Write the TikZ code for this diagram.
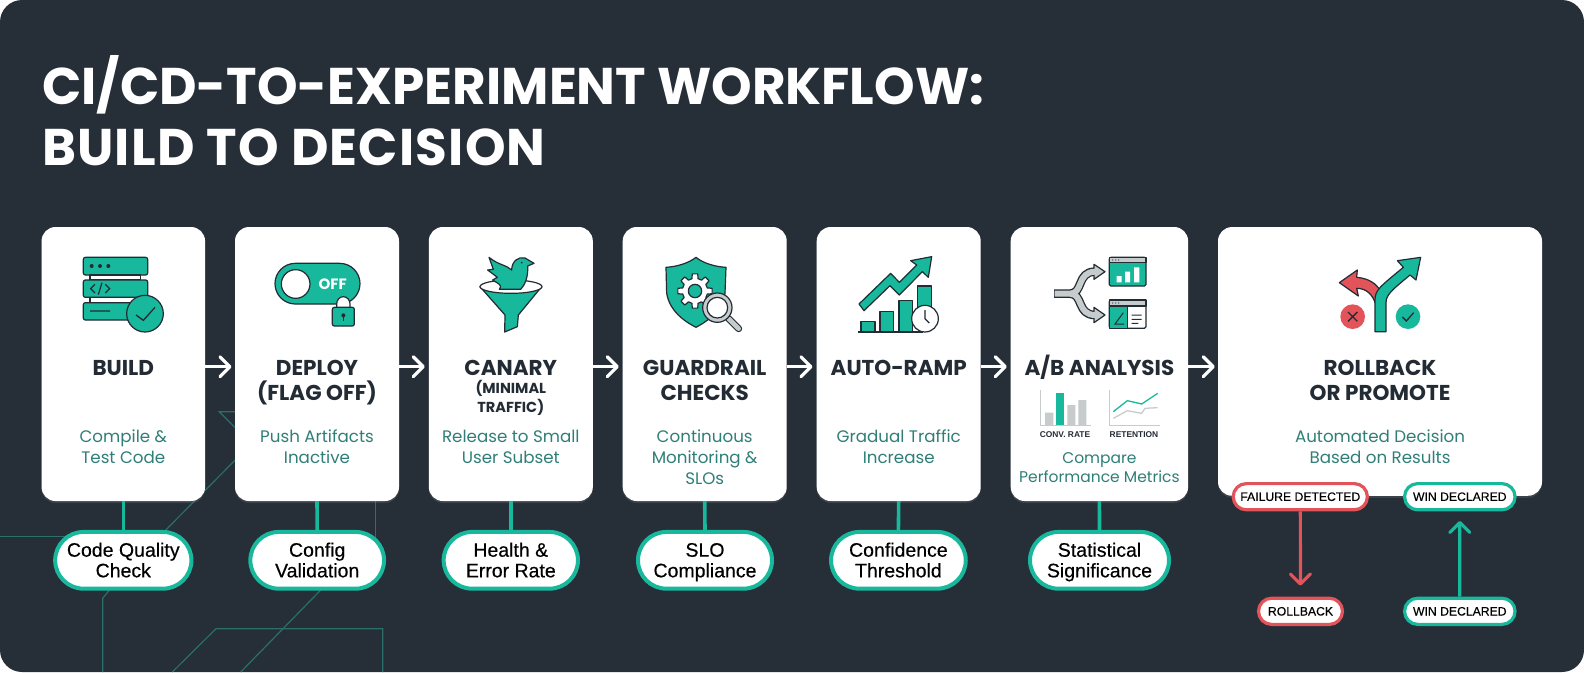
\documentclass[tikz,border=0pt]{standalone}
\usepackage{fontspec}
\setmainfont{Poppins}
\newfontfamily\pillfont[FakeBold=0.35]{Liberation Sans}
\newfontfamily\chartfont{Liberation Sans}
\usetikzlibrary{arrows.meta,shapes.misc,shadows}
\definecolor{panel}{HTML}{262E38}
\definecolor{ink}{HTML}{232B35}
\definecolor{mint}{HTML}{17B89B}
\definecolor{subtxt}{HTML}{2F7F78}
\definecolor{trace}{HTML}{2A6F6A}
\definecolor{alarm}{HTML}{E2535A}
\definecolor{ash}{HTML}{C6CCCC}
\begin{document}
\begin{tikzpicture}[x=1pt,y=-1pt,
    card/.style={rectangle,fill=white,rounded corners=14pt,inner sep=0pt,drop shadow={opacity=.25,shadow xshift=0pt,shadow yshift=-2pt}},
    head/.style={anchor=base,align=center,inner sep=0pt,text=ink,font=\fontsize{21.5}{25}\selectfont\bfseries},
    minihead/.style={anchor=base,align=center,inner sep=0pt,text=ink,font=\fontsize{14.5}{19.7}\selectfont\bfseries},
    sub/.style={anchor=base,align=center,inner sep=0pt,text=subtxt,font=\fontsize{16.7}{20.8}\selectfont},
    pill/.style={rounded rectangle,draw=mint,fill=white,line width=4pt,inner sep=0pt,align=center,minimum height=56.7pt,text=black,text height=40pt,text depth=6pt,font=\pillfont\fontsize{19.5}{20.6}\selectfont},
    tag/.style={rounded rectangle,draw=#1,fill=white,line width=3.2pt,inner sep=0pt,minimum height=26.2pt,text=black,font=\pillfont\fontsize{12.2}{14}\selectfont},
    link/.style={draw=mint,line width=3.6pt},
    flow/.style={draw=white,line width=3.2pt,-{Straight Barb[length=10pt,width=20pt,round]}},
    bgline/.style={draw=trace,line width=1.2pt},
    icon/.style={shift={#1},scale=1/3},
    solid fill/.style={fill=#1,draw=ink,line width=1.2pt,line join=round}]
  \useasboundingbox (0,0) rectangle (1584,672);
  \fill[white] (0,0) rectangle (1584,672);
  \fill[panel,rounded corners=22pt] (0,0) rectangle (1584,672);

  \draw[bgline] (0,536.7) -- (70,536.7);
  \draw[bgline] (165.7,530) -- (280,415);
  \draw[bgline] (245,437.5) -- (219.3,411.7) -- (300,411.7);
  \draw[bgline] (375.7,495) -- (375.7,540);
  \draw[bgline] (111,588) -- (102.7,598.3) -- (102.7,672);
  \draw[bgline] (322.7,588) -- (240.7,672);
  \draw[bgline] (172.3,672) -- (216,628.7) -- (382.7,628.7) -- (382.7,672);

  \node[card,minimum width=163.5pt,minimum height=274pt] (c1) at (123.3,364) {};
  \node[card,minimum width=164pt,minimum height=274pt] (c2) at (317,364) {};
  \node[card,minimum width=164pt,minimum height=274pt] (c3) at (510.8,364) {};
  \node[card,minimum width=164pt,minimum height=274pt] (c4) at (704.7,364) {};
  \node[card,minimum width=164pt,minimum height=274pt] (c5) at (898.7,364) {};
  \node[card,minimum width=177.4pt,minimum height=274pt] (c6) at (1099.4,364) {};
  \node[card,minimum width=324pt,minimum height=268.7pt] (c7) at (1380,361.4) {};

  \draw[flow] ([yshift=-2.7pt]c1.east) -- ([yshift=-2.7pt,xshift=-3.3pt]c2.west);
  \draw[flow] ([yshift=-2.7pt]c2.east) -- ([yshift=-2.7pt,xshift=-3.8pt]c3.west);
  \draw[flow] ([yshift=-2.7pt]c3.east) -- ([yshift=-2.7pt,xshift=-3.7pt]c4.west);
  \draw[flow] ([yshift=-2.7pt]c4.east) -- ([yshift=-2.7pt,xshift=-4pt]c5.west);
  \draw[flow] ([yshift=-2.7pt]c5.east) -- ([yshift=-2.7pt,xshift=-3.7pt]c6.west);
  \draw[flow] ([yshift=-2.7pt]c6.east) -- ([yshift=-5.3pt,xshift=-3pt]c7.west);

  \node[anchor=base west,align=left,inner sep=0pt,text=white,font=\fontsize{51.6}{60.7}\selectfont\bfseries] (title) at (42,165) {CI/CD-TO-EXPERIMENT WORKFLOW:\\{\addfontfeature{LetterSpace=2.3}BUILD TO DECISION}};

  \node[head] (t1) at (123.3,375) {BUILD};
  \node[head] (t2) at (317,400) {DEPLOY\\(FLAG OFF)};
  \node[head] (t3) at (510.8,375) {CANARY};
  \node[minihead] (t3b) at (510.8,412.7) {(MINIMAL\\TRAFFIC)};
  \node[head] (t4) at (704.7,400) {GUARDRAIL\\CHECKS};
  \node[head] (t5) at (898.7,375) {AUTO-RAMP};
  \node[head] (t6) at (1099.4,375) {A/B ANALYSIS};
  \node[head] (t7) at (1380,400) {ROLLBACK\\OR PROMOTE};

  \node[sub] (s1) at (123.3,463.3) {Compile \&\\Test Code};
  \node[sub] (s2) at (317,463.3) {Push Artifacts\\Inactive};
  \node[sub] (s3) at (510.8,463.3) {Release to Small\\User Subset};
  \node[sub] (s4) at (704.7,484.5) {Continuous\\Monitoring \&\\SLOs};
  \node[sub] (s5) at (898.7,463.3) {Gradual Traffic\\Increase};
  \node[sub,font=\fontsize{15.5}{19.4}\selectfont] (s6) at (1099.4,482.7) {Compare\\Performance Metrics};
  \node[sub] (s7) at (1380,463.3) {Automated Decision\\Based on Results};

  \node[pill,minimum width=136pt] (p1) at (123.3,560.3) {Code Quality\\Check};
  \node[pill,minimum width=133.7pt] (p2) at (317.2,560.3) {Config\\Validation};
  \node[pill,minimum width=134.3pt] (p3) at (510.8,560.3) {Health \&\\Error Rate};
  \node[pill,minimum width=134pt] (p4) at (705,560.3) {SLO\\Compliance};
  \node[pill,minimum width=134.7pt] (p5) at (898.4,560.3) {Confidence\\Threshold};
  \node[pill,minimum width=139pt] (p6) at (1099.5,560.3) {Statistical\\Significance};
  \foreach \n in {1,...,6} \draw[link] (c\n.south) -- (p\n.north);

  \node[tag=alarm,minimum width=134.2pt] (fail) at (1300.3,496.7) {FAILURE DETECTED};
  \node[tag=mint,minimum width=110.5pt] (win) at (1459.8,496.7) {WIN DECLARED};
  \node[tag=alarm,minimum width=84pt] (back) at (1300.5,611.3) {ROLLBACK};
  \node[tag=mint,minimum width=110.5pt] (winb) at (1459.8,611.3) {WIN DECLARED};
  \draw[draw=alarm,line width=3.2pt,shorten >=11pt,-{Straight Barb[length=10pt,width=20pt,round]}] (fail) -- (back);
  \draw[draw=mint,line width=3.2pt,shorten >=9.5pt,-{Straight Barb[length=10pt,width=20pt,round]}] (winb) -- (win);

  \begin{scope}[icon={(30,220)}]
    \draw[solid fill=mint,rounded corners=2pt] (160,112) rectangle (353,165);
    \draw[solid fill=white] (180,165) rectangle (332,180) (180,232) rectangle (332,248);
    \draw[solid fill=mint,rounded corners=2pt] (160,180) rectangle (353,232);
    \draw[solid fill=mint,rounded corners=2pt] (160,248) rectangle (353,300);
    \foreach \x in {185,210,235} \fill[ink] (\x,138) circle[radius=6];
    \draw[ink,line width=1.2pt] (195,193) -- (182,206) -- (195,219) (205,224) -- (216,188) (226,193) -- (239,206) -- (226,219) (180,273) -- (240,273);
    \draw[solid fill=mint] (345,281) circle[radius=55];
    \draw[ink,line width=1.3pt] (318,285) -- (340,301) -- (375,262);
  \end{scope}

  \begin{scope}[icon={(30,220)}]
    \draw[solid fill=mint,rounded corners=20.3pt] (735,130) rectangle (990,252);
    \draw[solid fill=white] (797,192) circle[radius=43];
    \node[inner sep=0pt,text=white,font=\fontsize{15}{15}\selectfont\bfseries] (off) at (908,192) {OFF};
    \draw[solid fill=white] (920,265) -- (920,252) arc[start angle=180,end angle=360,x radius=20,y radius=22] -- (960,265);
    \draw[solid fill=mint,rounded corners=2pt] (907,262) rectangle (973,318);
    \fill[ink] (940,286) circle[radius=6];
    \draw[ink,line width=1.2pt] (940,286) -- (940,302);
  \end{scope}

  \begin{scope}[icon={(410,220)}]
    \draw[solid fill=mint] (210,200) -- (285,285) -- (284,336) -- (322,320) -- (325,285) -- (395,200) -- cycle;
    \draw[solid fill=white] (303,200) ellipse[x radius=93,y radius=20];
    \draw[solid fill=mint] (268,208) .. controls (280,195) and (262,190) .. (248,180) -- (262,172) -- (233,150) -- (250,148) -- (237,112) .. controls (265,135) and (290,135) .. (305,150) .. controls (305,125) and (325,108) .. (345,114) -- (372,130) -- (353,138) .. controls (355,170) and (345,195) .. (332,208) -- cycle;
    \fill[ink] (335,128) circle[radius=3];
  \end{scope}

  \begin{scope}[icon={(410,220)}]
    \draw[solid fill=mint] (858,112) .. controls (835,130) and (800,140) .. (768,142) -- (770,220) .. controls (780,280) and (835,310) .. (858,322) .. controls (880,310) and (935,280) .. (945,220) -- (948,142) .. controls (915,140) and (880,130) .. (858,112) -- cycle;
    \begin{scope}[shift={(855,213)}]
      \draw[solid fill=white] (-14:38) foreach \a in {0,45,...,315} {-- (\a-14:38) -- (\a-9:52) -- (\a+9:52) -- (\a+14:38)} -- cycle;
      \draw[solid fill=mint] (0,0) circle[radius=20];
    \end{scope}
    \draw[ink,line width=7pt,line cap=round] (956,296) -- (986,326);
    \draw[ash,line width=4.6pt,line cap=round] (956,296) -- (986,326);
    \draw[solid fill=ash] (922,263) circle[radius=44];
    \draw[solid fill=white] (922,263) circle[radius=31];
  \end{scope}

  \begin{scope}[icon={(790,220)}]
    \draw[solid fill=mint] (213,305) rectangle (255,335);
    \draw[solid fill=mint] (270,275) rectangle (310,335);
    \draw[solid fill=mint] (327,242) rectangle (367,335);
    \draw[solid fill=mint] (382,198) rectangle (425,280);
    \draw[ink,line width=1.4pt] (205,336) -- (400,336);
    \draw[solid fill=white] (405,296) circle[radius=40];
    \draw[ink,line width=1.2pt] (405,270) -- (405,296) -- (418,309);
    \draw[solid fill=mint] (207,252) -- (302,160) -- (328,187) -- (380,135) -- (362,122) -- (425,110) -- (415,172) -- (397,155) -- (328,225) -- (300,197) -- (222,272) -- cycle;
  \end{scope}

  \begin{scope}[icon={(790,220)}]
    \draw[ink,line width=8.6pt,line join=round] (792,221) -- (840,221) .. controls (880,221) and (860,155) .. (915,155) (840,221) .. controls (880,221) and (860,285) .. (915,285);
    \draw[solid fill=ash] (912,133) -- (945,155) -- (912,178) -- cycle (912,262) -- (945,285) -- (912,308) -- cycle;
    \draw[ash,line width=6pt] (794,221) -- (840,221) .. controls (880,221) and (860,155) .. (916,155) (840,221) .. controls (880,221) and (860,285) .. (916,285);
    \draw[solid fill=mint,rounded corners=1.5pt] (958,112) rectangle (1068,198);
    \draw[solid fill=ash] (958,112) rectangle (1068,128);
    \foreach \x in {968,977,986} \fill[ink] (\x,120) circle[radius=2];
    \fill[white] (980,168) rectangle (995,187) (1005,155) rectangle (1020,187) (1032,142) rectangle (1048,187);
    \draw[solid fill=white,rounded corners=1.5pt] (958,240) rectangle (1068,325);
    \draw[solid fill=mint] (958,258) rectangle (1012,325);
    \draw[solid fill=ash] (958,240) rectangle (1068,258);
    \foreach \x in {968,977,986} \fill[ink] (\x,249) circle[radius=2];
    \draw[ink,line width=1pt] (1000,278) -- (975,312) -- (1002,312) (1025,285) -- (1055,285) (1025,298) -- (1055,298) (1025,310) -- (1045,310);
    \draw[ash,line width=1pt] (750,510) -- (750,615) -- (902,615) (957,510) -- (957,615) -- (1110,615);
    \fill[ash] (765,578) rectangle (790,615) (832,555) rectangle (856,615) (865,540) rectangle (889,615);
    \fill[mint] (798,518) rectangle (822,615);
    \draw[mint,line width=1.3pt] (970,575) -- (1012,542) -- (1055,552) -- (1103,520);
    \draw[ash,line width=1.3pt] (970,595) -- (1012,572) -- (1055,580) -- (1065,565) -- (1103,563);
    \node[inner sep=0pt,text=ink,font=\chartfont\fontsize{8.4}{9}\selectfont\bfseries] (conv) at (825,645) {CONV. RATE};
    \node[inner sep=0pt,text=ink,font=\chartfont\fontsize{8.4}{9}\selectfont\bfseries] (ret) at (1032,645) {RETENTION};
  \end{scope}

  \begin{scope}[icon={(1190,220)}]
    \draw[solid fill=alarm] (448,188) -- (502,150) -- (500,172) .. controls (535,175) and (560,190) .. (572,215) -- (556,250) .. controls (548,225) and (530,205) .. (500,205) -- (505,228) -- cycle;
    \draw[solid fill=mint] (555,335) -- (555,240) .. controls (555,210) and (570,200) .. (640,142) -- (622,122) -- (692,112) -- (678,180) -- (660,165) .. controls (600,215) and (588,225) .. (588,250) -- (588,335) -- cycle;
    \fill[alarm] (488,290) circle[radius=37];
    \draw[ink,line width=1.3pt] (474,276) -- (502,304) (502,276) -- (474,304);
    \fill[mint] (654,290) circle[radius=37];
    \draw[ink,line width=1.3pt] (637,291) -- (649,303) -- (671,278);
  \end{scope}
\end{tikzpicture}
\end{document}
